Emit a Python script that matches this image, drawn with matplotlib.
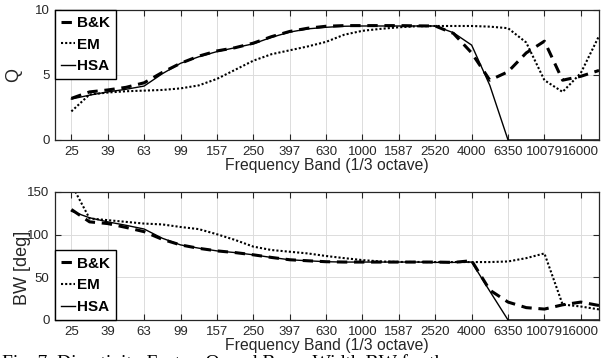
import numpy as np
import matplotlib
matplotlib.use('Agg')
from matplotlib import pyplot as plt

plt.rcParams['font.family'] = ['Liberation Sans', 'DejaVu Sans']

# 1/3倍频程中心频率 (index 1..30)
bands = [25, 31.5, 39, 50, 63, 79, 99, 125, 157, 198, 250, 315, 397, 500, 630,
         794, 1000, 1260, 1587, 2000, 2520, 3175, 4000, 5040, 6350, 8000, 10079,
         12699, 16000, 20159]
tick_labels = ['25', '39', '63', '99', '157', '250', '397', '630', '1000', '1587',
               '2520', '4000', '6350', '10079', '16000']

# Q
q_bk = [3.2, 3.7, 3.85, 4.05, 4.4, 5.2, 5.9, 6.45, 6.85, 7.1, 7.45, 7.95, 8.35, 8.6,
        8.75, 8.8, 8.8, 8.8, 8.8, 8.78, 8.77, 8.2, 6.7, 4.6, 5.25, 6.7, 7.6, 4.6, 4.9, 5.35]
q_em = [2.2, 3.5, 3.65, 3.75, 3.8, 3.85, 3.97, 4.2, 4.7, 5.4, 6.1, 6.6, 6.9, 7.2,
        7.55, 8.1, 8.4, 8.55, 8.67, 8.75, 8.77, 8.77, 8.77, 8.72, 8.6, 7.5, 4.6, 3.7, 5.15, 8.0]
q_hsa = [3.15, 3.45, 3.7, 3.9, 4.15, 5.1, 5.9, 6.4, 6.8, 7.1, 7.4, 7.9, 8.3, 8.55,
         8.67, 8.75, 8.77, 8.77, 8.77, 8.77, 8.77, 8.25, 7.3, 4.2, 0, 0, 0, 0, 0, 0]

# BW [deg]
bw_bk = [129.5, 115, 113, 108.5, 103.5, 94.5, 88, 84, 81, 79, 76.4, 73.3, 70.6, 69.4,
         68.3, 67.9, 67.9, 67.9, 67.9, 67.9, 67.9, 67.5, 69.5, 35, 21, 14.5, 12.8, 17.8, 21, 17]
bw_em = [159, 119, 117, 115, 113, 112, 109, 106.5, 100.5, 93.8, 86, 82, 80, 78, 75,
         72.5, 70.2, 68.6, 68, 68, 67.9, 67.9, 67.9, 67.9, 68.6, 72.5, 78, 18.2, 15.8, 12.4]
bw_hsa = [127.5, 119.8, 115, 111, 106.6, 95.8, 88, 84.2, 81, 79, 76.4, 73.3, 70.6, 69.4,
          68.3, 67.9, 67.9, 67.9, 67.9, 67.9, 67.5, 67.5, 67.9, 33.7, 0, 0, 0, 0, 0, 0]

dark = '#262626'
idx = np.arange(1, len(bands) + 1)


def draw(ax, bk, em, hsa, ylim, yticks, ylabel, loc):
    ax.plot(idx, bk, color='black', lw=2.2, linestyle=(0, (3.4, 2.2)), label='B&K')
    ax.plot(idx, em, color='black', lw=1.5, linestyle=(0, (1, 1)), label='EM')
    ax.plot(idx, hsa, color='black', lw=1.0, label='HSA')
    ax.set_xlim(0.1, 30)
    ax.set_ylim(*ylim)
    ax.set_xticks(idx[0:29:2])
    ax.set_xticklabels(tick_labels)
    ax.set_yticks(yticks)
    ax.grid(True, color='#dcdcdc', lw=0.7)
    ax.set_axisbelow(True)
    ax.tick_params(direction='in', top=True, right=True, labelsize=9.5,
                   colors=dark, length=4, width=0.8, pad=4)
    for s in ax.spines.values():
        s.set_color(dark)
        s.set_linewidth(0.9)
    ax.set_xlabel('Frequency Band (1/3 octave)', fontsize=11.3, color=dark, labelpad=0)
    ax.set_ylabel(ylabel, fontsize=13, color=dark)
    leg = ax.legend(loc=loc, borderaxespad=0, handlelength=0.9, handletextpad=0.15,
                    labelspacing=0.5, borderpad=0.4, fancybox=False, framealpha=1,
                    prop={'weight': 'bold', 'size': 11})
    leg.get_frame().set_edgecolor('black')
    leg.get_frame().set_linewidth(1.0)
    return ax


fig = plt.figure(figsize=(6.05, 3.58), dpi=100)
ax1 = fig.add_axes([55 / 605, 1 - 140 / 358, 544 / 605, 130 / 358])
ax2 = fig.add_axes([55 / 605, 1 - 320 / 358, 544 / 605, 128 / 358])

draw(ax1, q_bk, q_em, q_hsa, (0, 10), [0, 5, 10], 'Q', 'upper left')
draw(ax2, bw_bk, bw_em, bw_hsa, (0, 150), [0, 50, 100, 150], 'BW [deg]', 'lower left')
ax1.yaxis.set_label_coords(-0.06, 0.5)
ax2.yaxis.set_label_coords(-0.045, 0.41)

# 图注(被裁掉一半)
fig.text(0.003, 1 - 354 / 358, 'Fig. 7. Directivity Factor, Q, and Beam Width BW for the',
         fontsize=14, family=['Liberation Serif', 'DejaVu Serif'], va='top', ha='left')

plt.savefig('out.png', dpi=100)
